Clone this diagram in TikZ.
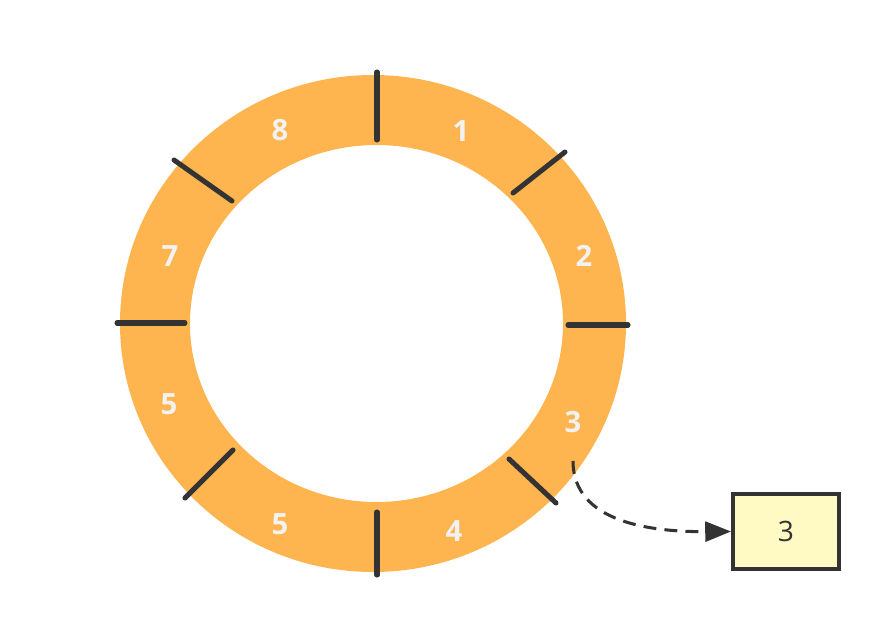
\documentclass[tikz,border=0pt]{standalone}
\usepackage{fontspec}
\setmainfont{Open Sans}
\usetikzlibrary{arrows.meta}
\definecolor{ringorange}{HTML}{FEB54F}
\definecolor{darkline}{HTML}{333333}
\definecolor{paleyellow}{HTML}{FFF9C4}
\begin{document}
\begin{tikzpicture}[x=0.03cm, y=-0.03cm]
\tikzset{ >={Triangle[length=22pt,width=17pt]},
  divider/.style={darkline, line width=4.3pt, line cap=round},
  seglabel/.style={text=white!95!black, font=\fontsize{25}{28}\selectfont\bfseries},
  slotbox/.style={draw=darkline, line width=3.4pt, fill=paleyellow, minimum width=3.18cm, minimum height=2.27cm, inner sep=0pt, text=darkline, font=\fontsize{24}{27}\selectfont},
}

\useasboundingbox (0,0) rectangle (890,644);

% ring
\fill [ringorange, even odd rule] (373,323.5) ellipse [x radius=253, y radius=248.5]
                                  (376.5,323.5) ellipse [x radius=186.5, y radius=178.5];

% dividers
\draw [divider] (377,72)  -- (377,140);
\draw [divider] (565,152) -- (513,193);
\draw [divider] (568,325) -- (628,325);
\draw [divider] (509,459) -- (556,503);
\draw [divider] (377,512) -- (377,575);
\draw [divider] (233,450) -- (185,498);
\draw [divider] (117,323) -- (185,323);
\draw [divider] (174,160) -- (232,201);

\node [seglabel] (s1) at (461,131) {1};
\node [seglabel] (s2) at (584,256) {2};
\node [seglabel] (s3) at (573,422) {3};
\node [seglabel] (s4) at (454,531) {4};
\node [seglabel] (s5a) at (280,524) {5};
\node [seglabel] (s5b) at (169,404) {5};
\node [seglabel] (s7) at (170,256) {7};
\node [seglabel] (s8) at (280,130) {8};

\node [slotbox] (slot) at (786,531.5) {3};

\coordinate (from) at (573,461);
\draw [->, darkline, line width=2.6pt, dash pattern=on 11pt off 7pt]
  (from) .. controls (573,522) and (650,532) .. (slot.west);

\end{tikzpicture}
\end{document}
